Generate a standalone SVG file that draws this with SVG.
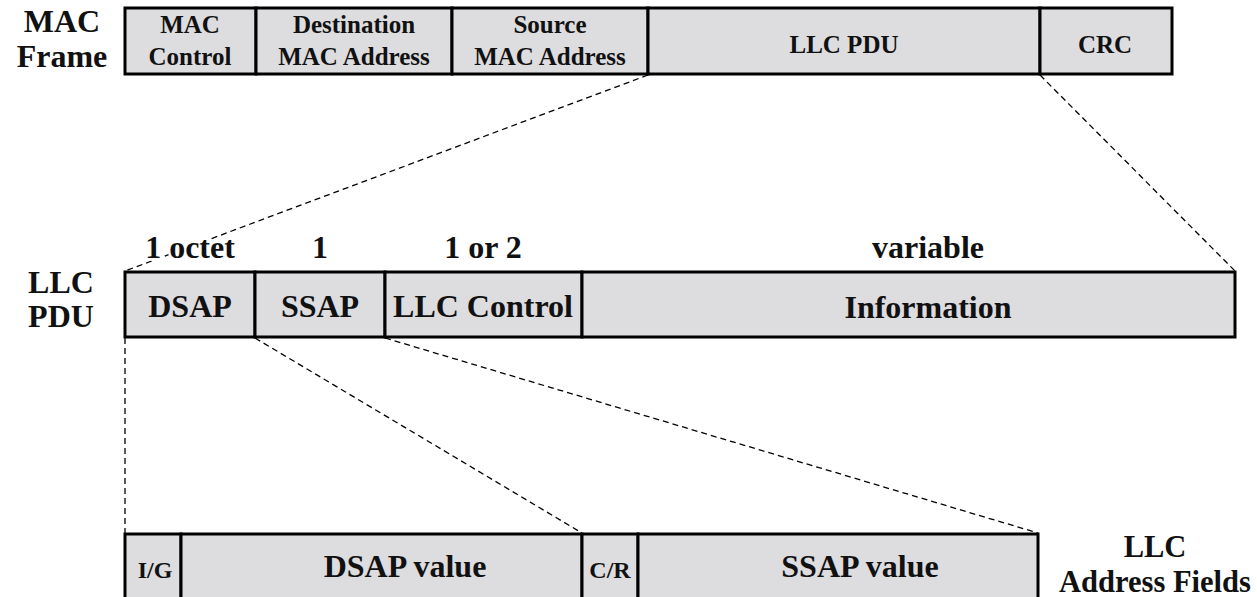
<svg xmlns="http://www.w3.org/2000/svg" width="1257" height="597" viewBox="0 0 1257 597">
<style>
.cell{fill:#dddcdf;stroke:#000;stroke-width:3}
.t{font-family:"Liberation Serif","Times New Roman",serif;font-weight:bold;fill:#111;text-anchor:middle}
.halo{stroke:#fff;stroke-width:5;paint-order:stroke;stroke-linejoin:round}
.s25{font-size:25px}
.s24{font-size:24px}
.s32{font-size:32px}
.s31{font-size:30.5px}
.dash{fill:none;stroke:#000;stroke-width:1.3;stroke-dasharray:6 4}
</style>
<rect width="1257" height="597" fill="#fff"/>
<g id="connectors">
<line class="dash" x1="648" y1="75" x2="125" y2="271"/>
<line class="dash" x1="1040" y1="75" x2="1235" y2="271"/>
<line class="dash" x1="125" y1="338" x2="125" y2="533"/>
<line class="dash" x1="255" y1="338" x2="582" y2="533"/>
<line class="dash" x1="385" y1="338" x2="1038" y2="533"/>
</g>
<g id="label-mac-frame">
<text class="t s32" x="62" y="32">MAC</text>
<text class="t s32" x="62" y="67">Frame</text>
</g>
<g id="mac-control"><rect class="cell" x="125" y="8" width="131" height="66"/><text class="t s25" x="190" y="33">MAC</text><text class="t s25" x="190" y="65">Control</text></g>
<g id="dest-mac"><rect class="cell" x="256" y="8" width="196" height="66"/><text class="t s25" x="354" y="33">Destination</text><text class="t s25" x="354" y="65">MAC Address</text></g>
<g id="src-mac"><rect class="cell" x="452" y="8" width="196" height="66"/><text class="t s25" x="550" y="33">Source</text><text class="t s25" x="550" y="65">MAC Address</text></g>
<g id="llc-pdu-field"><rect class="cell" x="648" y="8" width="392" height="66"/><text class="t s25" x="844" y="53">LLC PDU</text></g>
<g id="crc"><rect class="cell" x="1040" y="8" width="132" height="66"/><text class="t s25" x="1105" y="53">CRC</text></g>
<g id="label-llc-pdu">
<text class="t s32" x="61" y="293">LLC</text>
<text class="t s32" x="61" y="327">PDU</text>
</g>
<g id="sizes">
<text class="t s32 halo" x="190" y="258">1 octet</text>
<text class="t s32 halo" x="320" y="258">1</text>
<text class="t s32 halo" x="483" y="258">1 or 2</text>
<text class="t s32 halo" x="928" y="258">variable</text>
</g>
<g id="dsap"><rect class="cell" x="125" y="272" width="130" height="65"/><text class="t s32" x="190" y="317">DSAP</text></g>
<g id="ssap"><rect class="cell" x="255" y="272" width="130" height="65"/><text class="t s32" x="320" y="317">SSAP</text></g>
<g id="llc-control"><rect class="cell" x="385" y="272" width="197" height="65"/><text class="t s32" x="483" y="317">LLC Control</text></g>
<g id="information"><rect class="cell" x="582" y="272" width="653" height="65"/><text class="t s32" x="928" y="318">Information</text></g>
<g id="ig"><rect class="cell" x="125" y="534" width="56" height="80"/><text class="t s24" x="155" y="578">I/G</text></g>
<g id="dsap-value"><rect class="cell" x="181" y="534" width="401" height="80"/><text class="t s32" x="405" y="577">DSAP value</text></g>
<g id="cr"><rect class="cell" x="582" y="534" width="56" height="80"/><text class="t s24" x="610" y="578">C/R</text></g>
<g id="ssap-value"><rect class="cell" x="638" y="534" width="400" height="80"/><text class="t s32" x="860" y="577">SSAP value</text></g>
<g id="label-llc-address">
<text class="t s31" x="1155" y="557">LLC</text>
<text class="t s31" x="1155" y="592">Address Fields</text>
</g>
</svg>
